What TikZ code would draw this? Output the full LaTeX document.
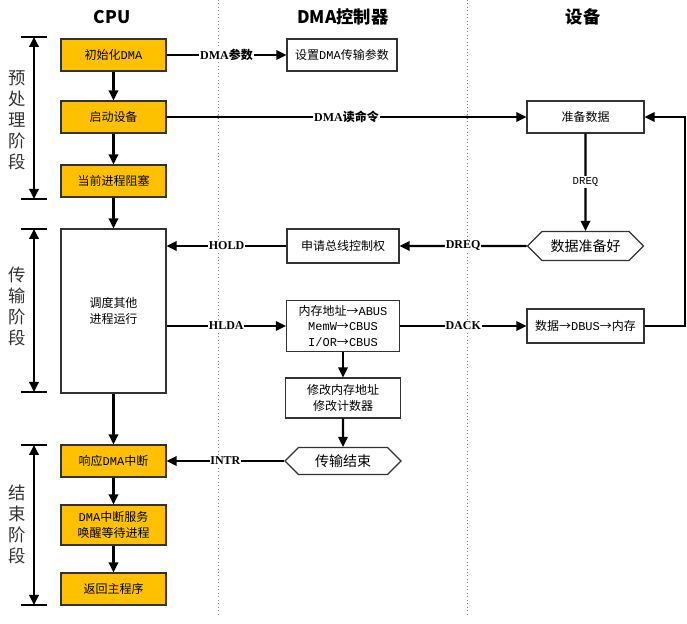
\documentclass[tikz,border=0pt]{standalone}
\usepackage{fontspec}
\setmainfont{Noto Sans CJK SC}
\newfontfamily\mono{Liberation Mono}
\newfontfamily\lat{Liberation Serif}
\usetikzlibrary{arrows.meta,shapes.symbols}
\definecolor{cpuorange}{RGB}{255,192,0}
\definecolor{edge}{RGB}{50,50,50}

\begin{document}
\begin{tikzpicture}[x=0.75pt,y=-0.75pt,
  sz/.style 2 args={minimum width=#1*0.75pt, minimum height=#2*0.75pt},
  base/.style={draw=edge, line width=0.8pt, font=\fontsize{9}{11.6}\selectfont, align=center, inner sep=1pt},
  cpubox/.style={base, fill=cpuorange, sz={105}{32}},
  dmabox/.style={base, fill=white},
  hexbox/.style={base, fill=white, shape=signal, signal to=west and east,
    signal pointer angle=90, font=\fontsize{10.5}{12}\selectfont},
  tip/.style={-{Triangle[length=7.5pt,width=7pt]}},
  link/.style={line width=1.7pt, tip},
  plain/.style={line width=1.7pt},
  tag/.style={fill=white, inner sep=0.6pt, font=\bfseries\fontsize{9}{10}\selectfont},
  header/.style={font=\bfseries\fontsize{13}{14}\selectfont},
  phase/.style={text=edge, font=\fontsize{13}{15.75}\selectfont, align=center},
  lane/.style={gray, dotted, line width=0.6pt},
]
\path[use as bounding box] (0,0) rectangle (687,624);

% swim-lane separators
\draw[lane] (218,0) -- (218,614);
\draw[lane] (467,0) -- (467,614);

% column headers
\node[header] (hcpu) at (112,17) {CPU};
\node[header] (hdma) at (343,17) {DMA控制器};
\node[header] (hdev) at (583,17) {设备};

% CPU column
\node[cpubox] (init)  at (113.5,55)  {初始化{\mono DMA}};
\node[cpubox] (start) at (113.5,117) {启动设备};
\node[cpubox] (block) at (113.5,181) {当前进程阻塞};
\node[base, fill=white, sz={105}{164}] (sched) at (113.5,311) {调度其他\\进程运行};
\node[cpubox] (resp)  at (113.5,461) {响应{\mono DMA}中断};
\node[cpubox, sz={105}{40}] (serv) at (113.5,525) {{\mono DMA}中断服务\\唤醒等待进程};
\node[cpubox] (ret)   at (113.5,589) {返回主程序};

% DMA controller column
\node[dmabox, sz={110}{32}] (setp)   at (342,55)  {设置{\mono DMA}传输参数};
\node[dmabox, sz={112}{34}] (req)    at (343,246) {申请总线控制权};
\node[dmabox, sz={113}{51}] (addr)   at (343,326)
  {内存地址→{\mono ABUS}\\{\mono MemW}→{\mono CBUS}\\{\mono I/OR}→{\mono CBUS}};
\node[dmabox, sz={115}{40}] (modify) at (343,398) {修改内存地址\\修改计数器};
\node[hexbox, sz={116}{27}] (endx)   at (343,461) {传输结束};

% device column
\node[dmabox, sz={117}{32}] (prep)  at (585.5,117) {准备数据};
\node[hexbox, sz={116}{29}] (ready) at (585.5,246) {数据准备好};
\node[dmabox, sz={117}{34}] (dbus)  at (585.5,326) {数据→{\mono DBUS}→内存};

% CPU flow
\draw[link] (init) -- (start);
\draw[link] (start) -- (block);
\draw[link] (block) -- (sched);
\draw[link] (sched) -- (resp);
\draw[link] (resp) -- (serv);
\draw[link] (serv) -- (ret);

% cross-lane signals
\draw[link] (init) -- node[tag] {{\lat DMA}参数} (setp);
\draw[link] (start) -- node[tag, pos=0.5] {{\lat DMA}读命令} (prep);
\fill (218,117) circle (1.3pt);
\fill (467,117) circle (1.3pt);
\draw[link] (prep) -- node[fill=white, inner sep=1pt, font=\mono\fontsize{8}{10}\selectfont] {DREQ} (ready);
\draw[link] (ready) -- node[tag] {\lat DREQ} (req);
\draw[link] (req.west) -- node[tag] {\lat HOLD} (sched.east |- req.west);
\draw[link] (sched.east |- addr.west) -- node[tag] {\lat HLDA} (addr.west);
\draw[link] (addr) -- node[tag] {\lat DACK} (dbus);
\draw[link] (addr) -- (modify);
\draw[link] (modify) -- (endx);
\draw[link] (endx.west) -- node[tag] {\lat INTR} (resp.east);

% loop back from the transfer to data preparation
\coordinate (loop) at (685,326);
\draw[link] (dbus.east) -- (loop) |- (prep.east);

% phase brackets
\foreach \nm/\top/\bot/\mid/\txt in {
  pre/37/199/120/预\\处\\理\\阶\\段,
  xfer/229/392/306/传\\输\\阶\\段,
  fin/445/605/524/结\\束\\阶\\段} {
  \coordinate (\nm t) at (34,\top);
  \coordinate (\nm b) at (34,\bot);
  \draw[plain] ([xshift=-9.75pt]\nm t) -- ([xshift=9.75pt]\nm t);
  \draw[plain] ([xshift=-9.75pt]\nm b) -- ([xshift=9.75pt]\nm b);
  \draw[line width=1.7pt, {Triangle[length=7.5pt,width=7pt]}-{Triangle[length=7.5pt,width=7pt]}] (\nm t) -- (\nm b);
  \node[phase] (\nm lbl) at (17,\mid) {\txt};
}
\end{tikzpicture}
\end{document}
